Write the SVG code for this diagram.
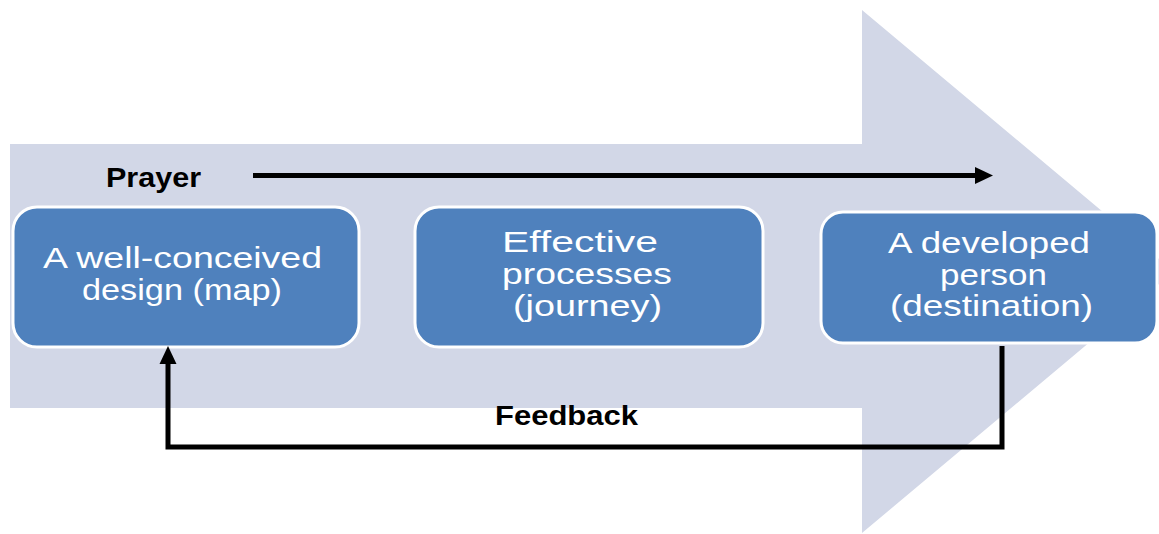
<svg xmlns="http://www.w3.org/2000/svg" width="1159" height="534" viewBox="0 0 1159 534">
  <style>
    .box { fill: #4f81bd; stroke: #ffffff; stroke-width: 3; }
    .bt { font-family: "Liberation Sans", Arial, sans-serif; font-size: 30px; fill: #ffffff; text-anchor: start; }
    .lbl { font-family: "Liberation Sans", Arial, sans-serif; font-size: 28px; font-weight: bold; fill: #000000; }
    .conn { fill: none; stroke: #000000; stroke-width: 5; stroke-linejoin: miter; stroke-linecap: butt; }
  </style>
  <defs>
    <marker id="ah" markerUnits="userSpaceOnUse" markerWidth="18" markerHeight="18" refX="0" refY="8.5" orient="auto" overflow="visible">
      <path d="M0,0 L18,8.5 L0,17 z" fill="#000000"/>
    </marker>
  </defs>
  <rect width="1159" height="534" fill="#ffffff"/>
  <g id="big-arrow">
    <path d="M10,144 H862 V10 L1174,271.5 L862,533 V408 H10 Z" fill="#d2d7e7"/>
  </g>
  <g id="node-design">
    <rect class="box" x="13" y="207" width="346" height="140" rx="24"/>
    <text class="bt" x="43" y="268" textLength="279" lengthAdjust="spacingAndGlyphs">A well-conceived</text>
    <text class="bt" x="82" y="300" textLength="200" lengthAdjust="spacingAndGlyphs">design (map)</text>
  </g>
  <g id="node-processes">
    <rect class="box" x="415" y="207" width="348" height="140" rx="24"/>
    <text class="bt" x="502" y="252" textLength="156" lengthAdjust="spacingAndGlyphs">Effective</text>
    <text class="bt" x="502" y="284" textLength="170" lengthAdjust="spacingAndGlyphs">processes</text>
    <text class="bt" x="513" y="316" textLength="149" lengthAdjust="spacingAndGlyphs">(journey)</text>
  </g>
  <g id="node-person">
    <rect class="box" x="821" y="212" width="336" height="131" rx="22"/>
    <text class="bt" x="888" y="253" textLength="202" lengthAdjust="spacingAndGlyphs">A developed</text>
    <text class="bt" x="940" y="285" textLength="107" lengthAdjust="spacingAndGlyphs">person</text>
    <text class="bt" x="890" y="316" textLength="203" lengthAdjust="spacingAndGlyphs">(destination)</text>
  </g>
  <g id="connectors">
    <path id="prayer" class="conn" d="M253,175.5 H975" marker-end="url(#ah)"/>
    <path id="feedback" class="conn" d="M1002,346 V447 H168 V364" marker-end="url(#ah)"/>
  </g>
  <g id="labels">
    <text class="lbl" x="106" y="187" textLength="95" lengthAdjust="spacingAndGlyphs">Prayer</text>
    <text class="lbl" x="495" y="425" textLength="143" lengthAdjust="spacingAndGlyphs">Feedback</text>
  </g>
</svg>
